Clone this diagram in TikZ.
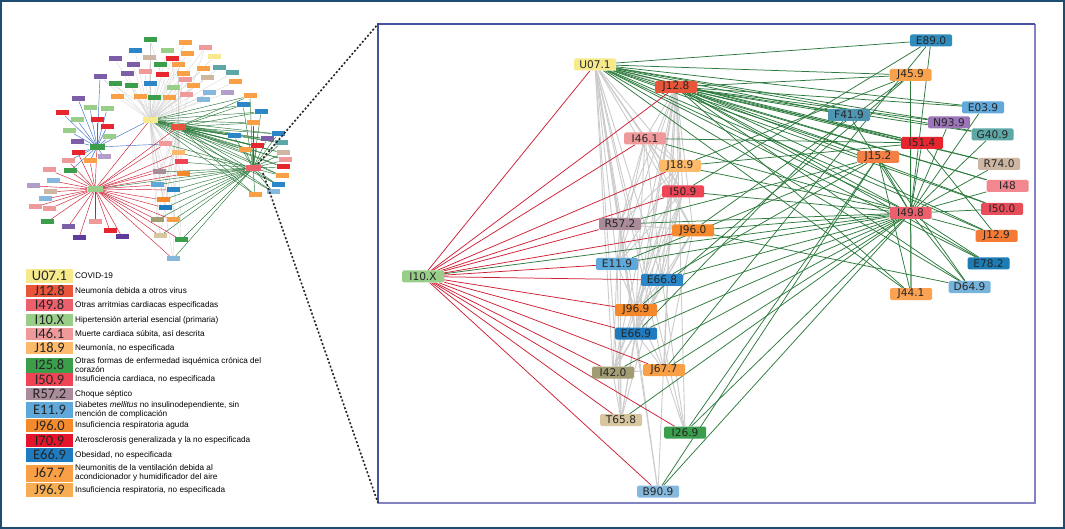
\documentclass[tikz,border=0pt]{standalone}
\usepackage{fontspec}
\newfontfamily\dejavu{DejaVu Sans}
\newfontfamily\carl{Carlito}
\newfontfamily\libsans{Liberation Sans}
\pgfdeclarelayer{bgl}\pgfdeclarelayer{lgray}\pgfdeclarelayer{lgreen}\pgfdeclarelayer{lred}
\pgfsetlayers{bgl,lgray,lgreen,lred,main}
\definecolor{cU}{HTML}{F6EA8C}
\definecolor{cJ128}{HTML}{E8553A}
\definecolor{cI461}{HTML}{F0999B}
\definecolor{cJ189}{HTML}{FDBA6B}
\definecolor{cI509}{HTML}{EE4456}
\definecolor{cR572}{HTML}{A98B9A}
\definecolor{cJ960}{HTML}{F58A2D}
\definecolor{cE119}{HTML}{5FA8DA}
\definecolor{cE668}{HTML}{2A86C6}
\definecolor{cJ969}{HTML}{F5882A}
\definecolor{cE669}{HTML}{1F7BC0}
\definecolor{cI420}{HTML}{A29C73}
\definecolor{cJ677}{HTML}{F9A047}
\definecolor{cT658}{HTML}{D7C6A0}
\definecolor{cI269}{HTML}{3B9E4D}
\definecolor{cB909}{HTML}{85B8DC}
\definecolor{cI10X}{HTML}{98CE88}
\definecolor{cE890}{HTML}{2F8CBD}
\definecolor{cJ459}{HTML}{F9A24E}
\definecolor{cE039}{HTML}{61A9DB}
\definecolor{cF419}{HTML}{4D95B0}
\definecolor{cN939}{HTML}{9C75B8}
\definecolor{cG409}{HTML}{5DA8A6}
\definecolor{cI514}{HTML}{E6252F}
\definecolor{cJ152}{HTML}{F47F45}
\definecolor{cR740}{HTML}{CDB7A3}
\definecolor{cI48}{HTML}{F3878F}
\definecolor{cI500}{HTML}{EA4D5A}
\definecolor{cI498}{HTML}{EC5F6C}
\definecolor{cJ129}{HTML}{F47A36}
\definecolor{cE782}{HTML}{1C7DB5}
\definecolor{cD649}{HTML}{78B3DC}
\definecolor{cJ441}{HTML}{FBA353}
\definecolor{cI258}{HTML}{3A9E4A}
\definecolor{cI709}{HTML}{E3142B}
\definecolor{cJ969L}{HTML}{F7AE52}
\definecolor{tp}{HTML}{7B5EA7}
\definecolor{tpl}{HTML}{B39DC9}
\definecolor{tdp}{HTML}{5E3C99}
\definecolor{edgegreen}{HTML}{2C7A3C}
\definecolor{edgered}{HTML}{CF1F35}
\definecolor{edgegray}{HTML}{CCCCCC}
\definecolor{outerblue}{HTML}{1D4E72}
\definecolor{panelA}{HTML}{4652A4}
\definecolor{panelB}{HTML}{8282C0}
\definecolor{thblue}{HTML}{3E6FC6}
\tikzset{
  nd/.style={rounded corners=1.5pt, minimum width=42pt, minimum height=12pt, inner sep=0pt,
    font=\dejavu\fontsize{10.6}{11}\selectfont, text=black!85},
  th/.style={minimum width=13pt, minimum height=5pt, inner sep=0pt},
  thhub/.style={minimum width=15pt, minimum height=6pt, inner sep=0pt},
  lg/.style={minimum width=47pt, inner sep=0pt, font=\carl\fontsize{14.5}{14.5}\selectfont, text=black!85},
  ld/.style={anchor=west, inner sep=0pt, font=\libsans\fontsize{8.2}{9.2}\selectfont, align=left},
  gre/.style={draw=edgegreen, line width=0.75pt},
  rede/.style={draw=edgered, line width=0.75pt},
  graye/.style={draw=edgegray, line width=0.9pt},
  tgray/.style={draw=black!18, line width=0.3pt},
  tblue/.style={draw=thblue, line width=0.45pt},
  tred/.style={draw=edgered, line width=0.45pt},
  tgreen/.style={draw=edgegreen, line width=0.45pt},
  dotline/.style={draw=black!85, line width=1.6pt, dash pattern=on 2pt off 2pt}
}
\begin{document}
\begin{tikzpicture}[x=1pt,y=-1pt]
\useasboundingbox (0,0) rectangle (1065,529);
\begin{pgfonlayer}{bgl}
\fill[white] (0,0) rectangle (1065,529);
\end{pgfonlayer}
\draw[outerblue, line width=1.5pt] (1,1) rectangle (1064,528);

% ---------------- thumbnail ----------------
\node[thhub, fill=cU] (tU) at (150,120) {};
\node[thhub, fill=cJ128] (tJ) at (178,127) {};
\node[thhub, fill=cI10X] (tI10) at (95,189) {};
\node[thhub, fill=cI258] (tI25) at (97,147) {};
\node[thhub, fill=cI498] (tI49) at (253,168) {};
\foreach \x/\y/\c [count=\i] in {150/40/cI258,135/51/cE668,167/51/cI10X,185/43/cJ677,205/48/cI461,187/54/cJ677,115/59/tp,149/58/cR740,172/59/cI514,214/57/cU,133/65/tp,160/65/cI258,178/65/cJ677,203/69/cJ677,219/68/cG409,232/73/cG409,100/77/tp,127/74/tp,145/72/cI461,162/75/cI514,183/74/cJ677,207/78/cR740,185/80/cI461,235/82/cJ677,115/84/cI258,131/86/cI258,150/84/cE668,173/88/cI10X,193/86/cJ677,209/93/cB909,227/93/tpl,117/97/cJ677,140/97/cJ677,154/98/cI258,169/98/cJ677,186/95/cI461,203/100/cB909}
  {\node[th, fill=\c] (a\i) at (\x,\y) {};}
\foreach \x/\y/\c [count=\i] in {78/99/tp,90/108/cI10X,107/109/cI10X,62/113/cI514,77/120/cI10X,97/120/cI514,107/127/cI514,69/131/cI10X,109/137/cI10X,77/142/tp,78/153/cI514,104/157/tpl,68/161/cI461,90/161/cJ677,70/171/cI258}
  {\node[th, fill=\c] (b\i) at (\x,\y) {};}
\foreach \x/\y/\c [count=\i] in {49/170/cI461,53/181/cB909,33/186/tpl,50/192/cR740,45/199/cB909,35/207/cI461,49/209/cI461,47/222/cI258,68/227/tp,95/222/cI461,110/231/cI514,79/238/tdp,122/237/tdp}
  {\node[th, fill=\c] (c\i) at (\x,\y) {};}
\foreach \x/\y/\c [count=\i] in {250/96/cJ677,243/105/cE668,261/112/cE668,253/123/cJ677,234/136/cE668,278/134/cE668,267/139/tp,281/143/cG409,245/150/cJ677,257/146/cI514,283/153/cR740,285/160/cI461,283/167/cI514,282/176/cJ677,278/185/cE668,273/192/cB909,255/195/cJ677}
  {\node[th, fill=\c] (d\i) at (\x,\y) {};}
\foreach \x/\y/\c [count=\i] in {165/144/cI461,178/153/cJ189,181/162/cI509,159/172/cR572,183/174/cJ960,157/185/cE119,173/190/cE668,163/200/cJ969,165/208/cE669,157/220/cI420,173/220/cJ677,160/236/cT658,181/240/cI269,173/259/cB909}
  {\node[th, fill=\c] (m\i) at (\x,\y) {};}
\begin{pgfonlayer}{lgray}
\foreach \i in {1,...,37} {\draw[tgray] (tU) -- (a\i);}
\foreach \i in {1,...,14} {\draw[tgray] (tU) -- (m\i); \draw[tgray] (tJ) -- (m\i);}
\foreach \i in {1,5,9,13,17,21} {\draw[tgray] (tJ) -- (a\i);}
\end{pgfonlayer}
\begin{pgfonlayer}{lgreen}
\foreach \i in {1,...,17} {\draw[tgreen] (tU) -- (d\i); \draw[tgreen] (tJ) -- (d\i); \draw[tgreen] (tI49) -- (d\i);}
\foreach \i in {1,...,14} {\draw[tgreen] (tI49) -- (m\i);}
\draw[tgreen] (tI49) -- (tI10);
\end{pgfonlayer}
\begin{pgfonlayer}{lred}
\foreach \i in {1,...,15} {\draw[tblue] (tI25) -- (b\i);}
\draw[tblue] (tI25) -- (tU); \draw[tblue] (tI25) -- (m1); \draw[tblue] (tI25) -- (a17);
\foreach \i in {1,...,13} {\draw[tred] (tI10) -- (c\i);}
\foreach \i in {1,...,14} {\draw[tred] (tI10) -- (m\i);}
\foreach \i in {11,13,14,15} {\draw[tred] (tI10) -- (b\i);}
\draw[tred] (tI10) -- (tU); \draw[tred] (tI10) -- (tJ); \draw[tred] (tI10) -- (tI25);
\end{pgfonlayer}

% ---------------- legend ----------------
\node[lg, fill=cU,     minimum height=14pt] (LU)   at (49.5,276) {U07.1};
\node[lg, fill=cJ128,  minimum height=12.5pt] (L128) at (49.5,291) {J12.8};
\node[lg, fill=cI498,  minimum height=12.5pt] (L498) at (49.5,305) {I49.8};
\node[lg, fill=cI10X,  minimum height=12.5pt] (L10X) at (49.5,320) {I10.X};
\node[lg, fill=cI461,  minimum height=12.5pt] (L461) at (49.5,334) {I46.1};
\node[lg, fill=cJ189,  minimum height=12.5pt] (L189) at (49.5,348) {J18.9};
\node[lg, fill=cI258,  minimum height=15pt] (L258) at (49.5,365) {I25.8};
\node[lg, fill=cI509,  minimum height=12.5pt] (L509) at (49.5,379.5) {I50.9};
\node[lg, fill=cR572,  minimum height=12.5pt] (L572) at (49.5,394) {R57.2};
\node[lg, fill=cE119,  minimum height=15.5pt] (L119) at (49.5,410) {E11.9};
\node[lg, fill=cJ960,  minimum height=13pt] (L960) at (49.5,425.5) {J96.0};
\node[lg, fill=cI709,  minimum height=13pt] (L709) at (49.5,440.5) {I70.9};
\node[lg, fill=cE669,  minimum height=13.5pt] (L669) at (49.5,455) {E66.9};
\node[lg, fill=cJ677,  minimum height=17pt] (L677) at (49.5,473) {J67.7};
\node[lg, fill=cJ969L, minimum height=13.5pt] (L969) at (49.5,490) {J96.9};
\node[ld] (D1) at (75,276) {COVID-19};
\node[ld] (D2) at (75,291) {Neumonía debida a otros virus};
\node[ld] (D3) at (75,305) {Otras arritmias cardiacas especificadas};
\node[ld] (D4) at (75,320) {Hipertensión arterial esencial (primaria)};
\node[ld] (D5) at (75,334) {Muerte cardiaca súbita, así descrita};
\node[ld] (D6) at (75,348) {Neumonía, no especificada};
\node[ld] (D7) at (75,365) {Otras formas de enfermedad isquémica crónica del\\corazón};
\node[ld] (D8) at (75,379.5) {Insuficiencia cardiaca, no especificada};
\node[ld] (D9) at (75,394) {Choque séptico};
\node[ld] (D10) at (75,410) {Diabetes \textit{mellitus} no insulinodependiente, sin\\mención de complicación};
\node[ld] (D11) at (75,425.5) {Insuficiencia respiratoria aguda};
\node[ld] (D12) at (75,440.5) {Aterosclerosis generalizada y la no especificada};
\node[ld] (D13) at (75,455) {Obesidad, no especificada};
\node[ld] (D14) at (75,473) {Neumonitis de la ventilación debida al\\acondicionador y humidificador del aire};
\node[ld] (D15) at (75,490) {Insuficiencia respiratoria, no especificada};

% ---------------- panel frame and zoom lines ----------------
\coordinate (pTL) at (378,24);
\coordinate (pTR) at (1035,24);
\coordinate (pBR) at (1035,503);
\coordinate (pBL) at (378,503);
\coordinate (zA) at (258,164);
\coordinate (zB) at (263,173);
\draw[panelB, line width=1.5pt] (pTR) -- (pBR) -- (pBL);
\draw[panelA, line width=1.5pt] (pBL) -- (pTL) -- (pTR);
\draw[dotline] (zA) -- (pTL);
\draw[dotline] (zB) -- (pBL);

% ---------------- main network nodes ----------------
\node[nd, fill=cU]    (U071) at (595,64.5) {U07.1};
\node[nd, fill=cJ128] (J128) at (676,87) {J12.8};
\node[nd, fill=cI461] (I461) at (645,138.5) {I46.1};
\node[nd, fill=cJ189] (J189) at (680,166) {J18.9};
\node[nd, fill=cI509] (I509) at (683,191.5) {I50.9};
\node[nd, fill=cR572] (R572) at (620,224) {R57.2};
\node[nd, fill=cJ960] (J960) at (693,230.5) {J96.0};
\node[nd, fill=cE119] (E119) at (617,264) {E11.9};
\node[nd, fill=cE668] (E668) at (662,280) {E66.8};
\node[nd, fill=cJ969] (J969) at (636,310) {J96.9};
\node[nd, fill=cE669] (E669) at (636,333.5) {E66.9};
\node[nd, fill=cI420] (I420) at (613,372.5) {I42.0};
\node[nd, fill=cJ677] (J677) at (664,370) {J67.7};
\node[nd, fill=cT658] (T658) at (621,420) {T65.8};
\node[nd, fill=cI269] (I269) at (685,432.5) {I26.9};
\node[nd, fill=cB909] (B909) at (658,491.5) {B90.9};
\node[nd, fill=cI10X] (I10X) at (423,276.5) {I10.X};
\node[nd, fill=cE890] (E890) at (931,40.5) {E89.0};
\node[nd, fill=cJ459] (J459) at (910.5,75) {J45.9};
\node[nd, fill=cE039] (E039) at (983,107.5) {E03.9};
\node[nd, fill=cF419] (F419) at (849,115) {F41.9};
\node[nd, fill=cN939] (N939) at (949,122.5) {N93.9};
\node[nd, fill=cG409] (G409) at (992.5,134.5) {G40.9};
\node[nd, fill=cI514] (I514) at (922,143) {I51.4};
\node[nd, fill=cJ152] (J152) at (878,157) {J15.2};
\node[nd, fill=cR740] (R740) at (999,164) {R74.0};
\node[nd, fill=cI48]  (I48)  at (1007.5,186) {I48};
\node[nd, fill=cI500] (I500) at (1002,209) {I50.0};
\node[nd, fill=cI498] (I498) at (910.5,213) {I49.8};
\node[nd, fill=cJ129] (J129) at (996.5,236) {J12.9};
\node[nd, fill=cE782] (E782) at (988.5,263.5) {E78.2};
\node[nd, fill=cD649] (D649) at (969.5,287) {D64.9};
\node[nd, fill=cJ441] (J441) at (911,294) {J44.1};

% ---------------- main network edges ----------------
\begin{pgfonlayer}{lgray}
\foreach \t in {J128,I461,J189,I509,R572,J960,E119,E668,J969,E669,I420,J677,T658,I269,B909}
  {\draw[graye] (U071) -- (\t);}
\foreach \t in {I461,J189,I509,R572,J960,E119,E668,J969,E669,I420,J677,T658,I269,B909}
  {\draw[graye] (J128) -- (\t);}
\foreach \a/\b in {I461/J189,I461/I509,I461/R572,I461/E668,I461/J960,I461/E119,I461/J969,
  J189/R572,J189/E119,J189/J969,J189/E669,J189/I420,
  I509/E119,I509/E669,I509/J969,I509/E668,I509/T658,
  R572/J960,R572/E119,R572/E669,R572/T658,
  J960/E668,J960/E669,J960/I420,J960/J677,
  E119/J969,E119/I420,E119/T658,
  E668/J969,E668/E669,E668/I269,
  J969/E669,J969/I420,J969/J677,
  E669/I420,E669/J677,E669/T658,E669/B909,
  I420/T658,I420/J677,J677/I269}
  {\draw[graye] (\a) -- (\b);}
\end{pgfonlayer}
\begin{pgfonlayer}{lgreen}
\foreach \t in {E890,J459,E039,N939,I514,G409,F419,J152,R740,I48,I500,J129,I498,D649,J441,E782}
  {\draw[gre] (U071) -- (\t);}
\foreach \t in {J459,E039,N939,I514,G409,F419,J152,R740,I48,I500,J129,I498,D649,J441,E782}
  {\draw[gre] (J128) -- (\t);}
\foreach \t in {I10X,I461,J189,I509,R572,J960,E119,E668,J969,E669,I420,J677,T658,I269,B909,
  E890,J459,F419,J152,I514,N939,E039,G409,R740,I48,I500,J129,E782,D649,J441}
  {\draw[gre] (I498) -- (\t);}
\foreach \a/\b in {I461/I514,J189/J459,J189/I514,I509/E890,J960/J459,R572/J152,E119/J152,
  J960/D649,B909/J152,I269/J152,J677/E890,J459/J441,J152/J441,J152/D649,I514/J129,
  E668/J152,J969/J459,E669/F419}
  {\draw[gre] (\a) -- (\b);}
\end{pgfonlayer}
\begin{pgfonlayer}{lred}
\foreach \t in {U071,J128,I461,J189,I509,R572,J960,E119,E668,J969,E669,I420,J677,T658,I269,B909}
  {\draw[rede] (I10X) -- (\t);}
\end{pgfonlayer}
\end{tikzpicture}
\end{document}
